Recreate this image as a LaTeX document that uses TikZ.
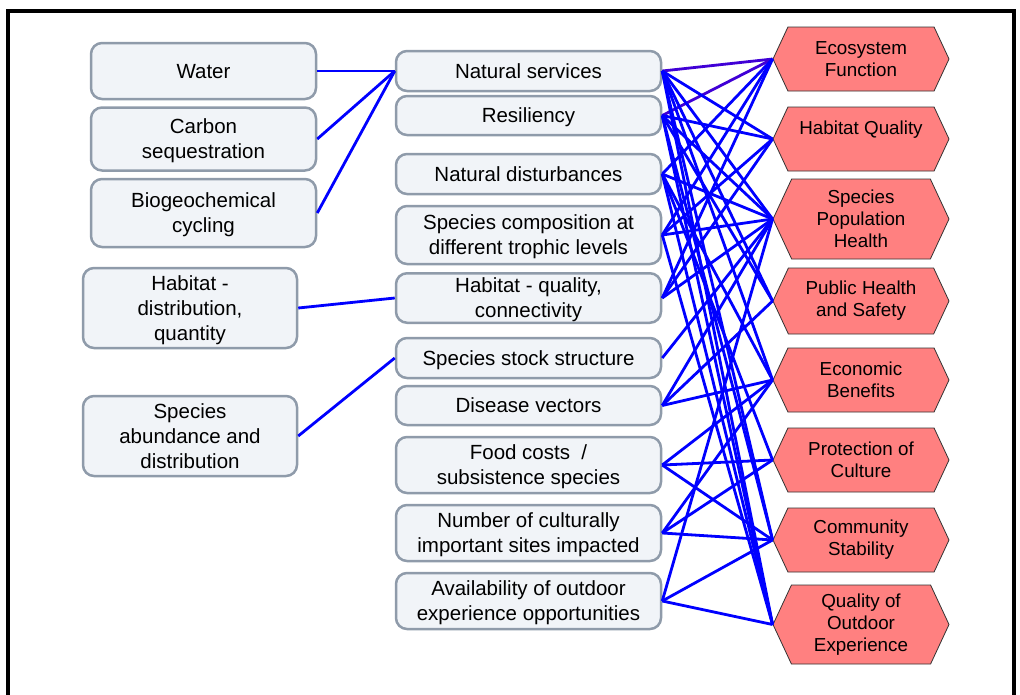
\documentclass[tikz,border=0pt]{standalone}
\usepackage{fontspec}
\setmainfont{Liberation Sans}
\usetikzlibrary{shapes.symbols}
\definecolor{boxfill}{RGB}{241,244,248}
\definecolor{boxline}{RGB}{143,155,170}
\definecolor{hexfill}{RGB}{255,128,128}
\definecolor{linkblue}{RGB}{0,0,255}
\definecolor{linkviolet}{RGB}{64,0,214}

\begin{document}
\begin{tikzpicture}[x=1pt,y=-1pt,
  every node/.style={inner sep=0pt,align=center},
  src/.style={draw=boxline,fill=boxfill,line width=2.5pt,rounded corners=11pt,
    font=\fontsize{20.5}{25}\selectfont,text height=19.5pt,text depth=5pt},
  two/.style={text height=44.5pt},
  three/.style={text height=69.5pt},
  ind/.style={src,minimum width=265pt},
  goal/.style={signal,signal to=west and east,signal pointer angle=130,
    draw=black!80,fill=hexfill,line width=0.8pt,minimum width=176pt,
    font=\fontsize{18.8}{22}\selectfont},
  link/.style={linkblue,line width=2.8pt}]
\useasboundingbox (0,0) rectangle (1020,694);
\draw[line width=4pt] (8,11) rectangle (1014,720);

% drivers
\node[src,minimum width=225pt,minimum height=56pt] (water) at (203.5,71) {Water};
\node[src,two,minimum width=225pt,minimum height=63pt] (carbon) at (203.5,139) {Carbon\\sequestration};
\node[src,two,minimum width=225pt,minimum height=68pt] (biogeo) at (203.5,213) {Biogeochemical\\cycling};
\node[src,three,minimum width=214pt,minimum height=80pt] (habdist) at (190,308) {Habitat -\\distribution,\\quantity};
\node[src,three,minimum width=214pt,minimum height=80pt] (spabund) at (190,436) {Species\\abundance and\\distribution};

% indicators
\node[ind,minimum height=40pt] (ns) at (528.5,71) {Natural services};
\node[ind,minimum height=39pt] (res) at (528.5,115.5) {Resiliency};
\node[ind,minimum height=40pt] (nd) at (528.5,174) {Natural disturbances};
\node[ind,two,minimum height=58pt] (sc) at (528.5,235) {Species composition at\\different trophic levels};
\node[ind,two,minimum height=48pt] (habq) at (528.5,298) {Habitat -  quality,\\connectivity};
\node[ind,minimum height=40pt] (sss) at (528.5,358) {Species stock structure};
\node[ind,minimum height=39pt] (dv) at (528.5,405.5) {Disease vectors};
\node[ind,two,minimum height=56pt] (food) at (528.5,465) {Food costs~~/\\subsistence species};
\node[ind,two,minimum height=56pt] (cult) at (528.5,533) {Number of culturally\\important sites impacted};
\node[ind,two,minimum height=56pt] (out) at (528.5,601) {Availability of outdoor\\experience opportunities};

% valued components
\node[goal,minimum height=64pt] (eco) at (861,59) {Ecosystem\\Function};
\node[goal,minimum height=64pt] (hq) at (861,139) {Habitat Quality\\~};
\node[goal,minimum height=80pt] (sp) at (861,219) {Species\\Population\\Health};
\node[goal,minimum height=66pt] (ph) at (861,301) {Public Health\\and Safety};
\node[goal,minimum height=64pt] (econ) at (861,380) {Economic\\Benefits};
\node[goal,minimum height=64pt] (pc) at (861,460) {Protection of\\Culture};
\node[goal,minimum height=64pt] (comm) at (861,540) {Community\\Stability};
\node[goal,minimum height=79pt] (qo) at (861,624.5) {Quality of\\Outdoor\\Experience};

% links
\foreach \a in {water,carbon,biogeo}
  \draw[link] (\a.east) -- (ns.west);
\draw[link] (habdist.east) -- (habq.west);
\draw[link] (spabund.east) -- (sss.west);
\draw[linkviolet,line width=2.8pt] (ns.east) -- (eco.west);
\draw[linkviolet,line width=2.8pt] (res.east) -- (eco.west);
\foreach \a/\b in {ns/hq,ns/sp,ns/ph,ns/econ,ns/comm,ns/qo,
    res/hq,res/sp,res/ph,res/comm,res/qo,
    nd/eco,nd/sp,nd/econ,nd/pc,nd/qo,
    sc/eco,sc/hq,sc/sp,sc/qo,
    habq/eco,habq/hq,habq/sp,
    sss/sp,
    dv/sp,dv/ph,dv/econ,
    food/econ,food/pc,food/comm,
    cult/econ,cult/pc,cult/comm,
    out/sp,out/comm,out/qo}
  \draw[link] (\a.east) -- (\b.west);
\end{tikzpicture}
\end{document}
